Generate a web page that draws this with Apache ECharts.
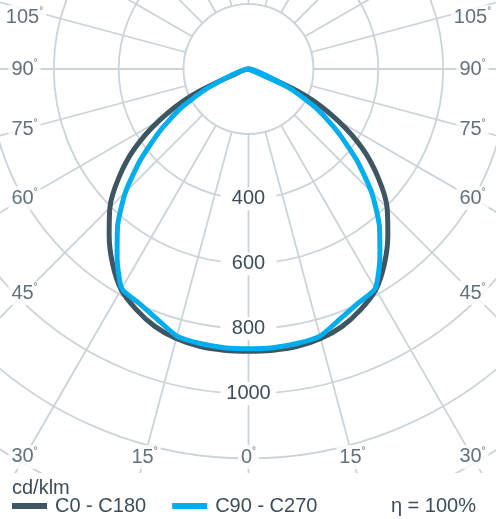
<!DOCTYPE html>
<html>
<head>
<meta charset="utf-8">
<script src="https://cdn.jsdelivr.net/npm/echarts/dist/echarts.min.js"></script>
<style>
  html, body { margin: 0; padding: 0; background: #fff; }
  #main { width: 496px; height: 519px; }
</style>
</head>
<body>
<div id="main"></div>
<script>
// gamma angles from nadir, the same on both halves of the diagram
const gammaAngles = [0, 5, 10, 15, 20, 25, 30, 35, 40, 45, 50, 55, 60, 65, 70, 75, 80, 85, 90];
// luminous intensity in cd/klm
const c0c180 = [870, 870, 868, 860, 844, 818, 785, 731, 668, 604, 522, 430, 318, 191, 40, 0, 0, 0, 0];
// C90 plane runs almost straight from 15 to 30 degrees
const c90c270 = [862, 862, 859, 852, 821, 797, 781, 706, 627, 536, 434, 333, 240, 138, 0, 0, 0, 0, 0];
const seriesNames = ['C0 - C180', 'C90 - C270'];
const seriesColors = ['#3e5562', '#00adee'];
const seriesSmooth = [0.3, 0.2];
const radiusLabels = [400, 600, 800, 1000];
const angleLabels = [0, 15, 30, 45, 60, 75, 90, 105];

const TEXT = '#3d4e5a';
const GRID = '#ccd4d9';
const FONT = '"Liberation Sans", Arial, sans-serif';
const PX = 0.3245;               // pixels per cd/klm
const CENTER = [248.5, 69];
const INNER = 200;               // grid starts at the 200 ring, inside is left blank
const LABEL_HALF_W = 224;        // angle labels sit on a frame round the diagram
const LABEL_BOTTOM = 388;
const LABEL_TOP = -52;

const chart = echarts.init(document.getElementById('main'));

// closed outline: right half top->nadir, left half nadir->top, back over the apex
function buildLoop(values) {
  const right = [], left = [];
  gammaAngles.forEach((g, i) => {
    if (values[i] === 0) return;
    left.push([values[i], g]);
    if (g > 0) right.unshift([values[i], 360 - g]);
  });
  const apex = [0, 90];
  return [apex].concat(right, left, [apex, right[0]]);
}

// where a label for gamma a lands on the frame, as [radius, angle]
function labelPoint(a) {
  const rad = a * Math.PI / 180;
  const sx = Math.sin(rad), cy = Math.cos(rad);
  let d = Math.abs(sx) < 1e-9 ? Infinity : LABEL_HALF_W / Math.abs(sx);
  if (cy > 0) d = Math.min(d, LABEL_BOTTOM / cy);
  let dx = d * sx, dy = d * cy;
  if (dy < LABEL_TOP) dy = LABEL_TOP;
  let ang = Math.atan2(dx, dy) * 180 / Math.PI;
  if (ang < 0) ang += 360;
  return [Math.hypot(dx, dy) / PX, ang];
}

const labelData = [];
angleLabels.forEach(a => {
  labelData.push({ value: labelPoint(a), name: String(a) });
  if (a > 0) labelData.push({ value: labelPoint(-a), name: String(a) });
});

const curves = [c0c180, c90c270].map((vals, i) => ({
  name: seriesNames[i],
  type: 'line',
  coordinateSystem: 'polar',
  data: buildLoop(vals),
  symbol: 'none',
  smooth: seriesSmooth[i],
  clip: false,
  silent: true,
  z: 3 + i,
  lineStyle: { color: seriesColors[i], width: 5, join: 'miter' },
  itemStyle: { color: seriesColors[i] }
}));

const option = {
  animation: false,
  textStyle: { fontFamily: FONT },
  polar: {
    center: CENTER,
    radius: [0, 1600 * PX]
  },
  angleAxis: {
    type: 'value',
    min: 0,
    max: 360,
    interval: 15,
    startAngle: 270,
    clockwise: true,
    z: 0,
    axisLine: { show: true, lineStyle: { color: GRID, width: 1.8 } },
    axisTick: { show: false },
    axisLabel: { show: false },
    splitLine: { show: true, lineStyle: { color: GRID, width: 1.8 } }
  },
  radiusAxis: {
    type: 'value',
    min: 0,
    max: 1600,
    interval: 200,
    z: 0,
    axisLine: { show: false },
    axisTick: { show: false },
    splitLine: { show: true, lineStyle: { color: GRID, width: 1.8 } },
    axisLabel: {
      margin: 0,
      align: 'center',
      verticalAlign: 'middle',
      formatter: v => radiusLabels.includes(v) ? '{b|' + v + '}' : '',
      rich: {
        b: {
          backgroundColor: '#fff', width: 56, height: 23, lineHeight: 23,
          align: 'center', fontSize: 20, color: TEXT, fontFamily: FONT
        }
      }
    }
  },
  title: [
    { text: 'cd/klm', left: 12, top: 478, padding: 0, z: 120,
      textStyle: { fontSize: 20, fontWeight: 'normal', color: TEXT, fontFamily: FONT } },
    { text: 'η = 100%', right: 20, top: 496, padding: 0, z: 120,
      textStyle: { fontSize: 20, fontWeight: 'normal', color: TEXT, fontFamily: FONT } }
  ],
  legend: {
    data: seriesNames,
    left: 12,
    top: 496,
    padding: 0,
    z: 120,
    icon: 'rect',
    itemWidth: 35,
    itemHeight: 6,
    itemGap: 26,
    selectedMode: false,
    textStyle: { fontSize: 20, color: TEXT, fontFamily: FONT, padding: [0, 0, 0, 3] }
  },
  graphic: [
    // blank disc inside the 200 ring, under the curves
    { type: 'circle', z: 2, silent: true,
      shape: { cx: CENTER[0], cy: CENTER[1], r: INNER * PX },
      style: { fill: '#fff', stroke: GRID, lineWidth: 1.8 } },
    // the grid is cut off straight above the legend
    { type: 'rect', left: 0, top: 473, z: 100,
      shape: { width: 496, height: 46 }, style: { fill: '#fff' } }
  ],
  series: curves.concat([{
    name: 'angles',
    type: 'scatter',
    coordinateSystem: 'polar',
    data: labelData,
    symbolSize: 0,
    silent: true,
    z: 10,
    label: {
      show: true,
      position: 'inside',
      formatter: p => '{n|' + p.name + '}{d|°}',
      backgroundColor: '#fff',
      padding: [1, 3],
      rich: {
        n: { fontSize: 20, lineHeight: 22, color: TEXT, fontFamily: FONT },
        d: { fontSize: 10, lineHeight: 12, verticalAlign: 'top', color: TEXT, fontFamily: FONT }
      }
    }
  }])
};

chart.setOption(option);
</script>
</body>
</html>
